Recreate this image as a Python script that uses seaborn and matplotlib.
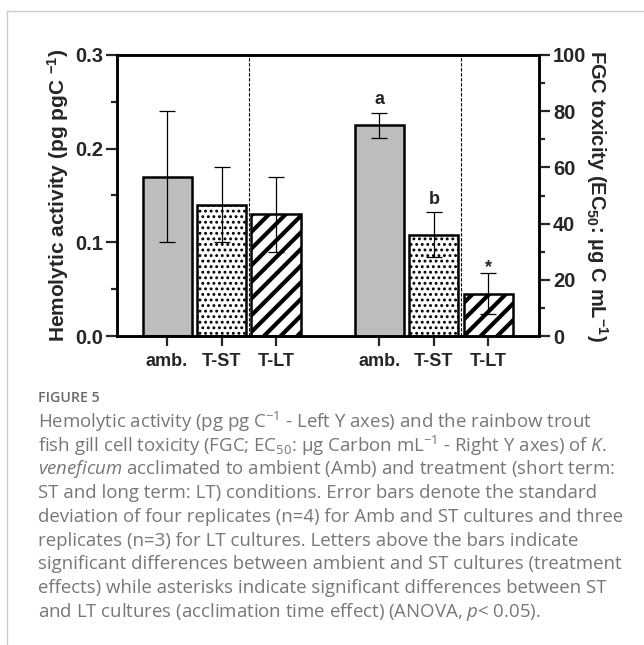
import numpy as np
import pandas as pd
import seaborn as sns
import matplotlib
matplotlib.use("Agg")
import matplotlib.pyplot as plt
from matplotlib.lines import Line2D
from matplotlib.ticker import MultipleLocator

# ---------------- data ----------------
conditions = ["amb.", "T-ST", "T-LT"]
hemolytic_mean = [0.17, 0.14, 0.13]
hemolytic_sd = [0.07, 0.04, 0.04]
fgc_mean = [75, 36, 15]
fgc_sd = [4.5, 8.0, 7.3]
fgc_marks = ["a", "b", "*"]
left_ticks = [0.0, 0.1, 0.2, 0.3]
right_ticks = [0, 20, 40, 60, 80, 100]

# layout positions of the two groups
left_pos = [0.0, 1.0, 2.0]
right_pos = [3.9, 4.9, 5.9]

df_left = pd.DataFrame({"pos": left_pos, "val": hemolytic_mean, "cond": conditions})
df_right = pd.DataFrame({"pos": right_pos, "val": fgc_mean, "cond": conditions})

sns.set_style("ticks")
plt.rcParams["font.family"] = ["Liberation Sans", "DejaVu Sans"]
plt.rcParams["mathtext.fontset"] = "custom"
plt.rcParams["mathtext.rm"] = "Open Sans"
plt.rcParams["mathtext.it"] = "Open Sans:italic"
plt.rcParams["mathtext.bf"] = "Liberation Sans:bold"

palette = {"amb.": "#bdbdbd", "T-ST": "white", "T-LT": "white"}
hatches = {"amb.": "", "T-ST": "...", "T-LT": "//"}
hatch_lw = {"amb.": 1.0, "T-ST": 1.3, "T-LT": 3.0}
mark_offset = {"a": 3.1, "b": 3.1, "*": 0.3}

fig = plt.figure(figsize=(6.44, 6.45), dpi=100)
ax = fig.add_axes([117 / 644, 1 - 336 / 645, (539 - 117) / 644, (336 - 55) / 645])
ax2 = ax.twinx()


def draw_group(axis, df, sd):
    for i, row in df.iterrows():
        plt.rcParams["hatch.linewidth"] = hatch_lw[row["cond"]]
        sns.barplot(data=df.iloc[[i]], x="pos", y="val", hue="cond",
                    palette=palette, hue_order=conditions, native_scale=True,
                    dodge=False, errorbar=None, legend=False, width=0.9,
                    edgecolor="black", linewidth=1.8, ax=axis)
        p = axis.patches[-1]
        p.set_width(0.9)
        p.set_x(row["pos"] - 0.45)
        p.set_hatch(hatches[row["cond"]])
        if hasattr(p, "set_hatch_linewidth"):
            p.set_hatch_linewidth(hatch_lw[row["cond"]])
    axis.errorbar(df["pos"], df["val"], yerr=sd, fmt="none", ecolor="black",
                  elinewidth=0.9, capsize=6, capthick=0.9, zorder=5)


draw_group(ax, df_left, hemolytic_sd)
draw_group(ax2, df_right, fgc_sd)

ax.set_xlim(-0.92, 6.83)
ax.set_ylim(0, 0.3)
ax2.set_ylim(0, 100)

for a in (ax, ax2):
    for s in a.spines.values():
        s.set_linewidth(1.8)
        s.set_color("black")
        s.set_visible(True)

ax.set_yticks(left_ticks)
ax.set_yticklabels([f"{t:.1f}" for t in left_ticks])
ax.yaxis.set_minor_locator(MultipleLocator(0.05))
ax2.set_yticks(right_ticks)
ax2.set_yticklabels([str(t) for t in right_ticks])
ax2.yaxis.set_minor_locator(MultipleLocator(10))

ax.set_xticks(left_pos + right_pos)
ax.set_xticklabels(conditions + conditions)
ax2.set_xlabel("")
ax.set_xlabel("")

ax.tick_params(axis="y", which="major", length=8, width=1.6, labelsize=14.5, pad=2)
ax.tick_params(axis="y", which="minor", length=4, width=1.6)
ax2.tick_params(axis="y", which="major", length=8, width=1.6, labelsize=14.5, pad=2)
ax2.tick_params(axis="y", which="minor", length=4, width=1.6)
ax.tick_params(axis="x", which="major", length=7, width=1.6, labelsize=13, pad=5)
ax2.tick_params(axis="x", bottom=False, top=False)
for lab in ax.get_yticklabels() + ax2.get_yticklabels() + ax.get_xticklabels():
    lab.set_fontweight("bold")

ax.set_ylabel(r"Hemolytic activity (pg pgC $\mathbf{^{-1}}$)", fontsize=15,
              fontweight="bold", labelpad=3)
ax2.set_ylabel(r"FGC toxicity (EC$\mathbf{_{50}}$: µg C mL$\mathbf{^{-1}}$)",
               fontsize=14.5, fontweight="bold", rotation=270, labelpad=17)

# dashed separators
for xv in (1.5, 5.4):
    ax.axvline(xv, color="black", lw=0.8, ls=(0, (3, 1.5)), zorder=6)

# significance marks
for xp, m, s, mark in zip(right_pos, fgc_mean, fgc_sd, fgc_marks):
    ax2.text(xp, m + s + mark_offset[mark], mark, ha="center", va="baseline",
             fontsize=13, fontweight="bold")

# frame lines
fig.add_artist(Line2D([7 / 644, 1], [1 - 11 / 645, 1 - 11 / 645],
                      transform=fig.transFigure, color="#cccccc", lw=1))
fig.add_artist(Line2D([7 / 644, 7 / 644], [0, 1 - 11 / 645],
                      transform=fig.transFigure, color="#cccccc", lw=1))

# caption
cap_color = "#777777"
fig.text(38 / 644, 1 - 398 / 645, "FIGURE 5", fontsize=10.2, color="#6a6a6a",
         family=["Open Sans", "DejaVu Sans"], fontweight="semibold", va="center")
caption_lines = [
    r"Hemolytic activity (pg pg C$^{-1}$ - Left Y axes) and the rainbow trout",
    r"fish gill cell toxicity (FGC; EC$_{50}$: µg Carbon mL$^{-1}$ - Right Y axes) of $\mathit{K.}$",
    r"$\mathit{veneficum}$ acclimated to ambient (Amb) and treatment (short term:",
    "ST and long term: LT) conditions. Error bars denote the standard",
    "deviation of four replicates (n=4) for Amb and ST cultures and three",
    "replicates (n=3) for LT cultures. Letters above the bars indicate",
    "significant differences between ambient and ST cultures (treatment",
    "effects) while asterisks indicate significant differences between ST",
    r"and LT cultures (acclimation time effect) (ANOVA, $\mathit{p}$< 0.05).",
]
for i, line in enumerate(caption_lines):
    y = 422 + i * 23.7
    fig.text(38 / 644, 1 - y / 645, line, fontsize=13.4, color=cap_color,
             family=["Open Sans", "DejaVu Sans"], va="center")

fig.savefig("out.png", dpi=100)
